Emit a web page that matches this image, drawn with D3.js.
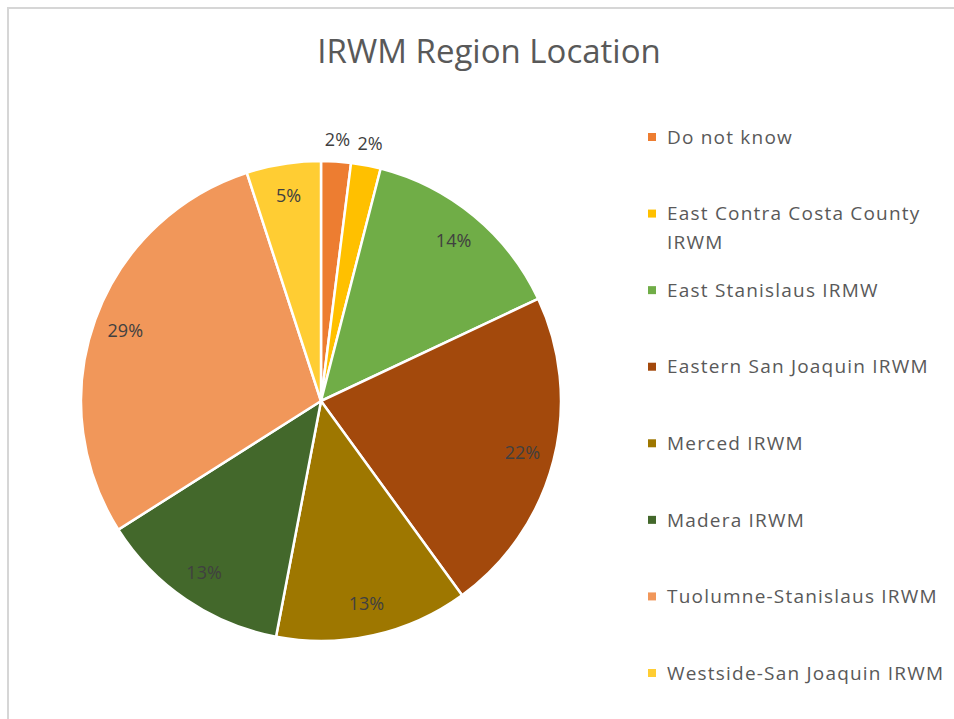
<!DOCTYPE html>
<html>
<head>
<meta charset="utf-8">
<script src="https://cdn.jsdelivr.net/npm/d3@7"></script>
<style>
  body { margin: 0; background: #fff; }
  text { font-family: "Open Sans", sans-serif; }
</style>
</head>
<body>
<div id="chart"></div>
<script>
// survey answers, percent of respondents
var regions = ["Do not know", "East Contra Costa County IRWM", "East Stanislaus IRMW",
               "Eastern San Joaquin IRWM", "Merced IRWM", "Madera IRWM",
               "Tuolumne-Stanislaus IRWM", "Westside-San Joaquin IRWM"];
var percents = [2, 2, 14, 22, 13, 13, 29, 5];
var sliceColors = ["#ED7D31", "#FFC000", "#70AD47", "#A3490C",
                   "#9E7700", "#43682B", "#F1975A", "#FFCD33"];
// legend lines (one entry wraps in the original)
var legendLines = [["Do not know"], ["East Contra Costa County", "IRWM"], ["East Stanislaus IRMW"],
                   ["Eastern San Joaquin IRWM"], ["Merced IRWM"], ["Madera IRWM"],
                   ["Tuolumne-Stanislaus IRWM"], ["Westside-San Joaquin IRWM"]];

function start(){
    var width = 954, height = 719;
    var svg = d3.select("#chart").append("svg")
                .attr("width", width)
                .attr("height", height);

    svg.append("rect").attr("width", width).attr("height", height).attr("fill", "#fff");

    // chart area frame, only top and left edges show in the picture
    svg.append("path")
       .attr("d", "M8," + height + "V8H" + width)
       .attr("fill", "none")
       .attr("stroke", "#d6d6d6")
       .attr("stroke-width", 2);

    svg.append("text")
       .attr("x", 489)
       .attr("y", 63)
       .attr("text-anchor", "middle")
       .style("font-size", "33px")
       .style("fill", "#595959")
       .text("IRWM Region Location");

    var data = regions.map(function(r, i){
        return {name: r, value: percents[i], lines: legendLines[i]};
    });

    var color = d3.scaleOrdinal().domain(regions).range(sliceColors);

    var cx = 321, cy = 401, radius = 240;
    var pie = d3.pie().sort(null).value(d => d.value);
    var arc = d3.arc().innerRadius(0).outerRadius(radius);
    var labelIn = d3.arc().innerRadius(208).outerRadius(208);
    var labelOut = d3.arc().innerRadius(262).outerRadius(262);

    var g = svg.append("g").attr("transform", "translate(" + cx + "," + cy + ")");
    var arcs = pie(data);

    g.selectAll("path.slice")
     .data(arcs)
     .enter()
     .append("path")
     .attr("class", "slice")
     .attr("d", arc)
     .attr("fill", d => color(d.data.name))
     .attr("stroke", "#fff")
     .attr("stroke-width", 2.5);

    g.selectAll("text.pct")
     .data(arcs)
     .enter()
     .append("text")
     .attr("class", "pct")
     .attr("transform", function(d){
         var p = d.data.value < 3 ? labelOut.centroid(d) : labelIn.centroid(d);
         return "translate(" + p[0] + "," + p[1] + ")";
     })
     .attr("text-anchor", "middle")
     .attr("dy", "0.35em")
     .style("font-size", "18px")
     .style("fill", "#404040")
     .text(d => d.data.value + "%");

    // legend
    var yLegend = d3.scalePoint().domain(regions).range([137, 673]);
    var legend = svg.append("g");
    var item = legend.selectAll("g")
                     .data(data)
                     .enter()
                     .append("g")
                     .attr("transform", d => "translate(648," + yLegend(d.name) + ")");

    item.append("rect")
        .attr("x", 0)
        .attr("y", -4)
        .attr("width", 8)
        .attr("height", 8)
        .attr("fill", d => color(d.name));

    item.append("text")
        .attr("x", 19)
        .attr("y", 0)
        .style("font-size", "19px")
        .style("letter-spacing", "1.2px")
        .style("fill", "#595959")
        .selectAll("tspan")
        .data(d => d.lines)
        .enter()
        .append("tspan")
        .attr("x", 19)
        .attr("dy", (d, i) => i == 0 ? "0.35em" : "29px")
        .text(d => d);
}

start();
</script>
</body>
</html>
